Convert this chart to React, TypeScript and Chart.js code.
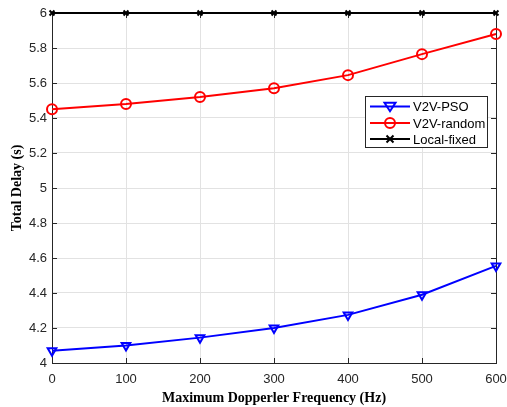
import React, { useEffect, useRef } from "react";
import { Chart, registerables } from "chart.js";

Chart.register(...registerables);

const frequencies = [0, 100, 200, 300, 400, 500, 600];
const psoDelay = [4.07, 4.1, 4.145, 4.2, 4.275, 4.39, 4.555];
const randomDelay = [5.45, 5.48, 5.52, 5.57, 5.645, 5.765, 5.88];
const fixedDelay = [6, 6, 6, 6, 6, 6, 6];
const seriesNames = ["V2V-PSO", "V2V-random", "Local-fixed"];
const xTitle = "Maximum Dopperler Frequency (Hz)";
const yTitle = "Total Delay (s)";

const AXIS_COLOR = "#262626";
const TICK_FONT = "13px 'Liberation Sans', Arial, sans-serif";

function drawMarker(ctx: CanvasRenderingContext2D, ds: any, x: number, y: number) {
  ctx.save();
  ctx.strokeStyle = ds.borderColor;
  ctx.lineWidth = ds.pointBorderWidth;
  const r = ds.pointRadius;
  ctx.beginPath();
  if (ds.pointStyle === "circle") {
    ctx.arc(x, y, r, 0, Math.PI * 2);
  } else if (ds.pointStyle === "triangle") {
    const h = r * 1.5;
    ctx.moveTo(x - r * 1.1, y - h / 2);
    ctx.lineTo(x + r * 1.1, y - h / 2);
    ctx.lineTo(x, y + h / 2 + 1);
    ctx.closePath();
  } else {
    ctx.moveTo(x - r, y - r);
    ctx.lineTo(x + r, y + r);
    ctx.moveTo(x + r, y - r);
    ctx.lineTo(x - r, y + r);
  }
  ctx.stroke();
  ctx.restore();
}

const boxPlugin = {
  id: "boxPlugin",
  beforeDatasetsDraw(chart: any) {
    const { ctx, chartArea, scales } = chart;
    const { left, right, top, bottom } = chartArea;
    ctx.save();
    ctx.strokeStyle = AXIS_COLOR;
    ctx.lineWidth = 1;
    const tl = 5;
    ctx.beginPath();
    scales.x.ticks.forEach((t: any) => {
      const x = Math.round(scales.x.getPixelForValue(t.value)) + 0.5;
      ctx.moveTo(x, bottom);
      ctx.lineTo(x, bottom - tl);
      ctx.moveTo(x, top);
      ctx.lineTo(x, top + tl);
    });
    scales.y.ticks.forEach((t: any) => {
      const y = Math.round(scales.y.getPixelForValue(t.value)) + 0.5;
      ctx.moveTo(left, y);
      ctx.lineTo(left + tl, y);
      ctx.moveTo(right, y);
      ctx.lineTo(right - tl, y);
    });
    ctx.stroke();
    ctx.strokeRect(Math.round(left) + 0.5, Math.round(top) + 0.5, Math.round(right - left), Math.round(bottom - top));
    ctx.restore();
  },
  afterDraw(chart: any) {
    const { ctx } = chart;
    const bx = 365.5, by = 96.5, bw = 122, bh = 51;
    ctx.save();
    ctx.fillStyle = "#ffffff";
    ctx.fillRect(bx, by, bw, bh);
    ctx.strokeStyle = AXIS_COLOR;
    ctx.lineWidth = 1;
    ctx.strokeRect(bx, by, bw, bh);
    const rows = [106.5, 123, 139];
    chart.data.datasets.forEach((ds: any, i: number) => {
      const y = rows[i];
      ctx.strokeStyle = ds.borderColor;
      ctx.lineWidth = 2;
      ctx.beginPath();
      ctx.moveTo(370, y);
      ctx.lineTo(410, y);
      ctx.stroke();
      drawMarker(ctx, ds, 390, y);
      ctx.fillStyle = "#000";
      ctx.font = TICK_FONT;
      ctx.textBaseline = "middle";
      ctx.textAlign = "left";
      ctx.fillText(ds.label, 413, y + 1);
    });
    ctx.restore();
  },
};

export default function App() {
  const ref = useRef<HTMLCanvasElement>(null);
  useEffect(() => {
    if (!ref.current) return;
    const chart = new Chart(ref.current, {
      type: "line",
      data: {
        datasets: [
          {
            label: seriesNames[0],
            data: frequencies.map((f, i) => ({ x: f, y: psoDelay[i] })),
            borderColor: "#0000ff",
            backgroundColor: "#ffffff",
            borderWidth: 2,
            pointStyle: "triangle",
            pointRotation: 180,
            pointRadius: 5,
            pointBorderWidth: 2,
            pointBackgroundColor: "rgba(0,0,0,0)",
            clip: 10,
          },
          {
            label: seriesNames[1],
            data: frequencies.map((f, i) => ({ x: f, y: randomDelay[i] })),
            borderColor: "#ff0000",
            backgroundColor: "#ffffff",
            borderWidth: 2,
            pointStyle: "circle",
            pointRadius: 5,
            pointBorderWidth: 2,
            pointBackgroundColor: "rgba(0,0,0,0)",
            clip: 10,
          },
          {
            label: seriesNames[2],
            data: frequencies.map((f, i) => ({ x: f, y: fixedDelay[i] })),
            borderColor: "#000000",
            backgroundColor: "#000000",
            borderWidth: 2,
            pointStyle: "crossRot",
            pointRadius: 3.5,
            pointBorderWidth: 2,
            clip: 10,
          },
        ] as any,
      },
      options: {
        animation: false,
        responsive: false,
        maintainAspectRatio: false,
        layout: { padding: { top: 13, right: 11, left: 0, bottom: 0 } },
        plugins: { legend: { display: false }, tooltip: { enabled: false } },
        scales: {
          x: {
            type: "linear",
            min: 0,
            max: 600,
            afterFit(scale: any) {
              scale.height = 44;
              scale.paddingLeft = 0;
              scale.paddingRight = 0;
            },
            ticks: {
              stepSize: 100,
              color: AXIS_COLOR,
              font: { family: "'Liberation Sans', Arial, sans-serif", size: 13 },
              padding: 9,
              maxRotation: 0,
            },
            grid: { color: "#e2e2e2", drawTicks: false },
            border: { display: false },
            title: {
              display: true,
              text: xTitle,
              color: "#000",
              font: { family: "'Liberation Serif', 'Times New Roman', serif", size: 14, weight: "bold" },
              padding: { top: 2, bottom: 0 },
            },
          },
          y: {
            type: "linear",
            min: 4,
            max: 6,
            afterFit(scale: any) {
              scale.width = 52;
              scale.paddingTop = 0;
              scale.paddingBottom = 0;
            },
            ticks: {
              stepSize: 0.2,
              color: AXIS_COLOR,
              font: { family: "'Liberation Sans', Arial, sans-serif", size: 13 },
              padding: 5,
              callback: (v: any) => String(Number(Number(v).toFixed(1))),
            },
            grid: { color: "#e2e2e2", drawTicks: false },
            border: { display: false },
            title: {
              display: true,
              text: yTitle,
              color: "#000",
              font: { family: "'Liberation Serif', 'Times New Roman', serif", size: 14, weight: "bold" },
              padding: { top: 9, bottom: 4 },
            },
          },
        },
      } as any,
      plugins: [boxPlugin],
    });
    return () => chart.destroy();
  }, []);
  return (
    <div style={{ position: "fixed", left: 0, top: 0, width: 507, height: 407, background: "#fff" }}>
      <canvas ref={ref} width={507} height={407} style={{ display: "block" }} />
    </div>
  );
}
